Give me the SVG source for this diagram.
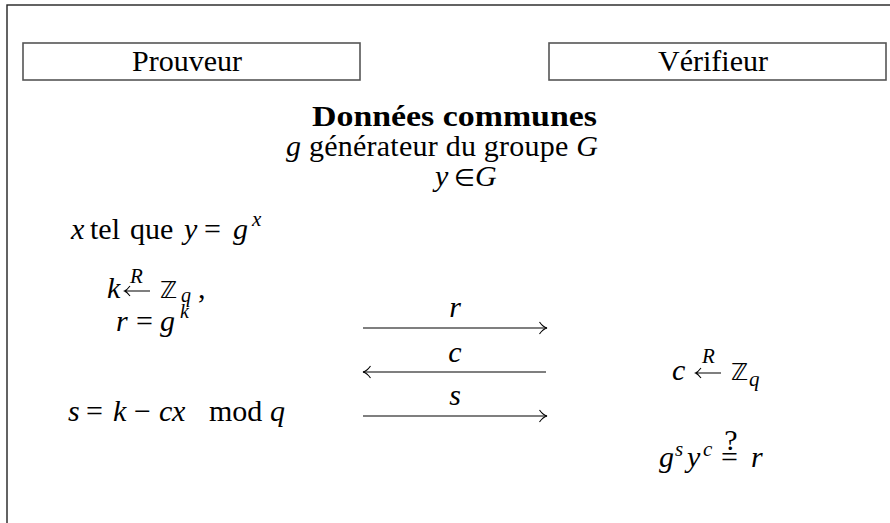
<svg xmlns="http://www.w3.org/2000/svg" width="890" height="523" viewBox="0 0 890 523">
<style>
text{font-size:30px;fill:#000}
.i{font-style:italic}
.b{font-weight:bold}
.s{font-size:21px}
.box{fill:#fff;stroke:#555;stroke-width:1.6}
.ln{fill:none;stroke:#000;stroke-width:1.1}
</style>
<defs>
<marker id="hd" viewBox="0 0 10 14" markerWidth="10" markerHeight="14" refX="9" refY="7" orient="auto-start-reverse" markerUnits="userSpaceOnUse">
<path d="M1.5,1 Q5,6 9,7 Q5,8 1.5,13" fill="none" stroke="#000" stroke-width="1.1"/>
</marker>
</defs>
<rect width="890" height="523" fill="#fff"/>
<rect id="frame" x="7" y="5" width="920" height="560" fill="none" stroke="#222" stroke-width="1.4"/>
<g font-family="Liberation Serif" style="font-family:'Liberation Serif',serif">
<g id="prouveur">
<rect class="box" x="23" y="43" width="337" height="37"/>
<text x="187" y="71" text-anchor="middle">Prouveur</text>
</g>
<g id="verifieur">
<rect class="box" x="549" y="43" width="337" height="37"/>
<text x="713" y="71" text-anchor="middle">Vérifieur</text>
</g>
<g id="common">
<text class="b" x="454.5" y="126" text-anchor="middle" textLength="285" lengthAdjust="spacingAndGlyphs">Données communes</text>
<text x="442" y="156" text-anchor="middle" textLength="312" lengthAdjust="spacing"><tspan class="i">g</tspan> générateur du groupe <tspan class="i">G</tspan></text>
<text y="186"><tspan class="i" x="435" y="186">y</tspan><tspan x="454" y="186" font-size="24" style="font-family:'DejaVu Sans',sans-serif">∈</tspan><tspan class="i" x="475" y="186">G</tspan></text>
</g>
<g id="prover-steps">
<text y="239"><tspan class="i" x="71" y="239">x</tspan><tspan x="90" y="239">tel</tspan><tspan x="130" y="239">que</tspan><tspan class="i" x="184" y="239">y</tspan><tspan x="204" y="239">=</tspan><tspan class="i" x="233" y="239">g</tspan><tspan class="i s" x="252" y="226">x</tspan></text>
<text y="298"><tspan class="i" x="107" y="298">k</tspan><tspan class="i s" x="130" y="283">R</tspan><tspan x="160" y="298" font-size="23" style="font-family:'DejaVu Sans',sans-serif">ℤ</tspan><tspan class="i" x="181" y="302" font-size="20">q</tspan><tspan x="198" y="298">,</tspan></text>
<path class="ln" d="M125,291 H150 M130,286 Q127,290 124.5,291 Q127,292 130,296"/>
<text y="331"><tspan class="i" x="116" y="331">r</tspan><tspan x="136" y="331">=</tspan><tspan class="i" x="160" y="331">g</tspan><tspan class="i" x="180" y="318" font-size="20">k</tspan></text>
<text y="421"><tspan class="i" x="68" y="421">s</tspan><tspan x="86" y="421">=</tspan><tspan class="i" x="113" y="421">k</tspan><tspan x="134" y="421">−</tspan><tspan class="i" x="159" y="421">c</tspan><tspan class="i" x="172" y="421">x</tspan><tspan x="209" y="421">mod</tspan><tspan class="i" x="270" y="421">q</tspan></text>
</g>
<g id="verifier-steps">
<text y="380"><tspan class="i" x="672" y="380">c</tspan><tspan class="i s" x="702" y="363">R</tspan><tspan x="731" y="380" font-size="23" style="font-family:'DejaVu Sans',sans-serif">ℤ</tspan><tspan class="i s" x="749" y="386">q</tspan></text>
<path class="ln" d="M696,373 H721 M701,368 Q698,372 695.5,373 Q698,374 701,378"/>
<text y="467"><tspan class="i" x="659" y="467">g</tspan><tspan class="i s" x="675" y="456">s</tspan><tspan class="i" x="687" y="467">y</tspan><tspan class="i s" x="703" y="456">c</tspan><tspan x="721" y="467">=</tspan><tspan class="i" x="751" y="467">r</tspan></text>
<text x="731" y="450" font-size="16" text-anchor="middle">?</text>
</g>
<g id="connectors">
<line class="ln" x1="363" y1="328" x2="547" y2="328" marker-end="url(#hd)"/>
<text class="i" x="455" y="317" text-anchor="middle" font-size="28">r</text>
<line class="ln" x1="363" y1="372" x2="546" y2="372" marker-start="url(#hd)"/>
<text class="i" x="455" y="362" text-anchor="middle" font-size="28">c</text>
<line class="ln" x1="363" y1="416" x2="547" y2="416" marker-end="url(#hd)"/>
<text class="i" x="455" y="405" text-anchor="middle" font-size="28">s</text>
</g>
</g>
</svg>
